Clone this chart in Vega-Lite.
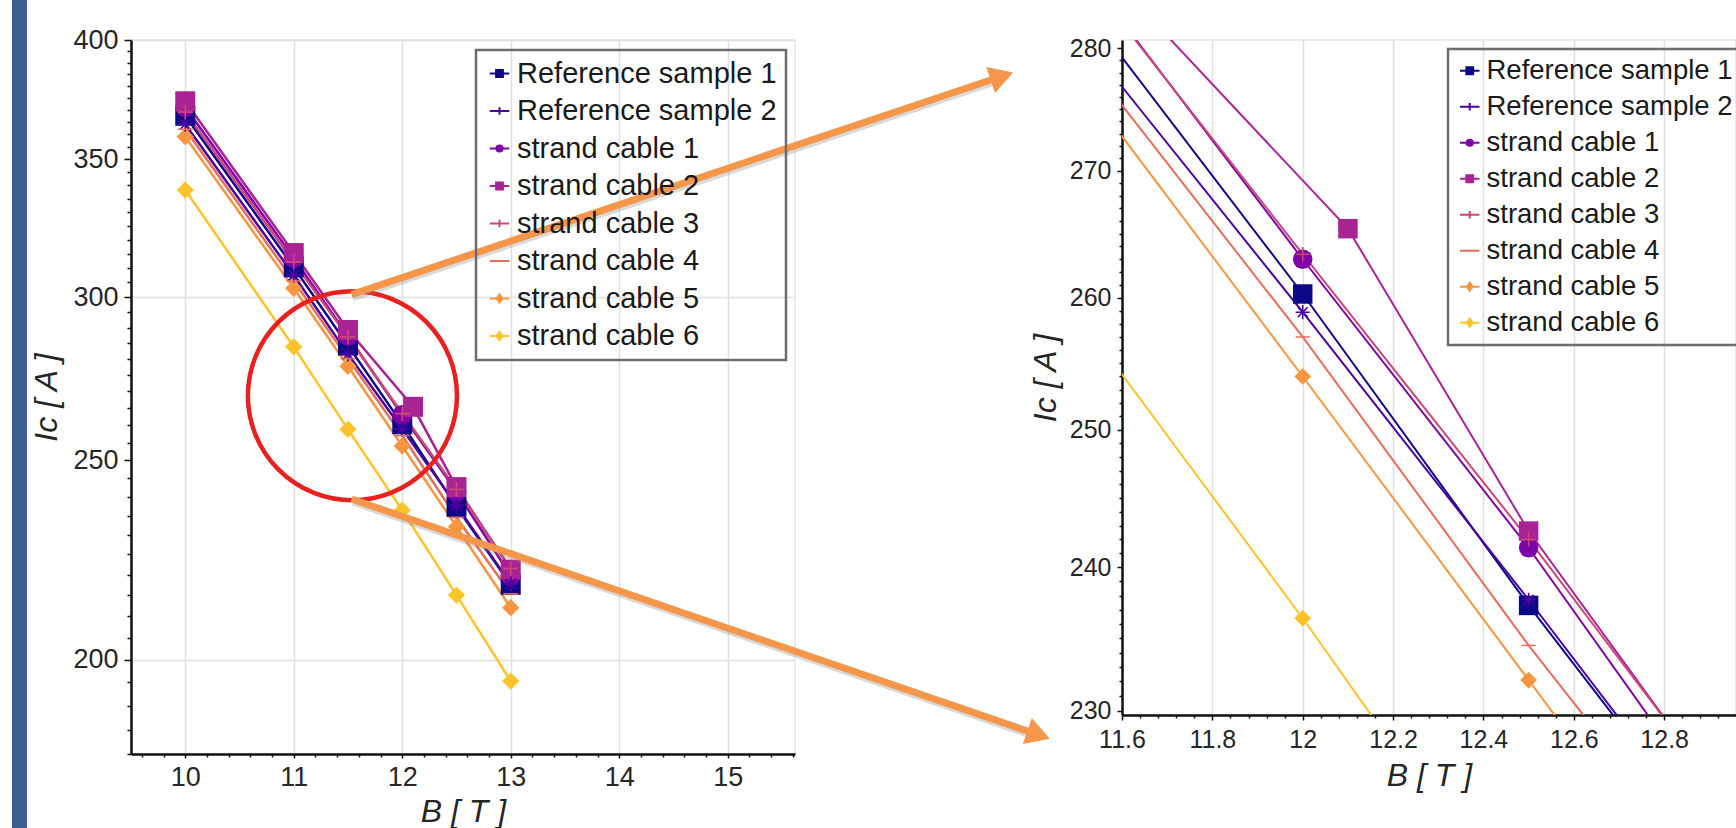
{
  "$schema": "https://vega.github.io/schema/vega-lite/v6.json",
  "background": "white",
  "padding": {"left": 12, "top": 0, "right": 0, "bottom": 0},
  "autosize": {"type": "pad"},
  "columns": 5,
  "spacing": 0,
  "bounds": "flush",
  "align": "each",
  "resolve": {"legend": {"color": "independent"}},
  "datasets": {
    "blank": [{"k": 1}],
    "ic": [
      {"series": "Reference sample 1", "B": 10, "Ic": 367.5},
      {"series": "Reference sample 1", "B": 11, "Ic": 310.2},
      {"series": "Reference sample 1", "B": 11.5, "Ic": 284.2},
      {"series": "Reference sample 1", "B": 12, "Ic": 260.3},
      {"series": "Reference sample 1", "B": 12.5, "Ic": 237.3},
      {"series": "Reference sample 1", "B": 13, "Ic": 217.5},
      {"series": "Reference sample 2", "B": 10, "Ic": 364.0},
      {"series": "Reference sample 2", "B": 11, "Ic": 307.5},
      {"series": "Reference sample 2", "B": 11.5, "Ic": 281.5},
      {"series": "Reference sample 2", "B": 12, "Ic": 258.9},
      {"series": "Reference sample 2", "B": 12.5, "Ic": 237.7},
      {"series": "Reference sample 2", "B": 13, "Ic": 217.7},
      {"series": "strand cable 1", "B": 10, "Ic": 371.0},
      {"series": "strand cable 1", "B": 11, "Ic": 313.5},
      {"series": "strand cable 1", "B": 11.5, "Ic": 287.3},
      {"series": "strand cable 1", "B": 12, "Ic": 263.0},
      {"series": "strand cable 1", "B": 12.5, "Ic": 241.4},
      {"series": "strand cable 1", "B": 13, "Ic": 219.7},
      {"series": "strand cable 2", "B": 10, "Ic": 373.5},
      {"series": "strand cable 2", "B": 11, "Ic": 315.2},
      {"series": "strand cable 2", "B": 11.5, "Ic": 289.2},
      {"series": "strand cable 2", "B": 12.1, "Ic": 265.4},
      {"series": "strand cable 2", "B": 12.5, "Ic": 242.6},
      {"series": "strand cable 2", "B": 13, "Ic": 221.2},
      {"series": "strand cable 3", "B": 10, "Ic": 369.0},
      {"series": "strand cable 3", "B": 11, "Ic": 312.0},
      {"series": "strand cable 3", "B": 11.5, "Ic": 287.0},
      {"series": "strand cable 3", "B": 12, "Ic": 263.4},
      {"series": "strand cable 3", "B": 12.5, "Ic": 242.0},
      {"series": "strand cable 3", "B": 13, "Ic": 221.5},
      {"series": "strand cable 4", "B": 10, "Ic": 362.0},
      {"series": "strand cable 4", "B": 11, "Ic": 305.5},
      {"series": "strand cable 4", "B": 11.5, "Ic": 280.1},
      {"series": "strand cable 4", "B": 12, "Ic": 257.0},
      {"series": "strand cable 4", "B": 12.5, "Ic": 234.5},
      {"series": "strand cable 4", "B": 13, "Ic": 215.3},
      {"series": "strand cable 5", "B": 10, "Ic": 359.0},
      {"series": "strand cable 5", "B": 11, "Ic": 303.0},
      {"series": "strand cable 5", "B": 11.5, "Ic": 277.7},
      {"series": "strand cable 5", "B": 12, "Ic": 254.0},
      {"series": "strand cable 5", "B": 12.5, "Ic": 232.1},
      {"series": "strand cable 5", "B": 13, "Ic": 212.0},
      {"series": "strand cable 6", "B": 10, "Ic": 338.2},
      {"series": "strand cable 6", "B": 11, "Ic": 283.8},
      {"series": "strand cable 6", "B": 11.5, "Ic": 258.8},
      {"series": "strand cable 6", "B": 12, "Ic": 236.4},
      {"series": "strand cable 6", "B": 12.5, "Ic": 215.0},
      {"series": "strand cable 6", "B": 13, "Ic": 195.3}
    ],
    "circle": [{"B": 11.541, "Ic": 268.7}],
    "arrows": [
      {"arrow": "upper", "end": "start", "B": 11.533, "Ic": 300.9},
      {"arrow": "upper", "end": "tip", "B": 17.527, "Ic": 384.1},
      {"arrow": "lower", "end": "start", "B": 11.533, "Ic": 239.4},
      {"arrow": "lower", "end": "tip", "B": 17.865, "Ic": 183.9}
    ]
  },
  "concat": [
    {"width": 15, "height": 40, "data": {"name": "blank"}, "mark": {"type": "point", "opacity": 0}, "view": {"fill": "#3a5f8e", "stroke": null}},
    {"width": 104, "height": 40, "data": {"name": "blank"}, "mark": {"type": "point", "opacity": 0}, "view": {"stroke": null}},
    {"width": 1, "height": 40, "data": {"name": "blank"}, "mark": {"type": "point", "opacity": 0}, "view": {"stroke": null}},
    {"width": 327, "height": 40, "data": {"name": "blank"}, "mark": {"type": "point", "opacity": 0}, "view": {"stroke": null}},
    {"width": 1, "height": 40, "data": {"name": "blank"}, "mark": {"type": "point", "opacity": 0}, "view": {"stroke": null}},
    {"width": 15, "height": 788, "data": {"name": "blank"}, "mark": {"type": "point", "opacity": 0}, "view": {"fill": "#3a5f8e", "stroke": null}},
    {"width": 1, "height": 1, "data": {"name": "blank"}, "mark": {"type": "point", "opacity": 0}, "view": {"stroke": null}},
    {
      "width": 664,
      "height": 714,
      "data": {"name": "ic"},
      "encoding": {
        "x": {
          "field": "B", "type": "quantitative",
          "scale": {"domain": [9.5, 15.62], "nice": false, "zero": false},
          "axis": {
            "values": [9.6, 9.8, 10, 10.2, 10.4, 10.6, 10.8, 11, 11.2, 11.4, 11.6, 11.8, 12, 12.2, 12.4, 12.6, 12.8, 13, 13.2, 13.4, 13.6, 13.8, 14, 14.2, 14.4, 14.6, 14.8, 15, 15.2, 15.4, 15.6],
            "format": "~g",
            "labelExpr": "abs(datum.value - round(datum.value)) < 0.001 ? datum.label : ''",
            "tickSize": {"condition": {"test": "abs(datum.value - round(datum.value)) < 0.001", "value": 4}, "value": 3},
            "grid": true,
            "gridOpacity": {"condition": {"test": "abs(datum.value - round(datum.value)) < 0.001", "value": 1}, "value": 0},
            "title": "B [ T ]",
            "titleFontSize": 32,
            "labelFontSize": 27,
            "labelPadding": 6,
            "titlePadding": 6
          }
        },
        "y": {
          "field": "Ic", "type": "quantitative",
          "scale": {"type": "log", "domain": [180, 400], "nice": false},
          "axis": {
            "values": [180, 185, 190, 195, 200, 205, 210, 215, 220, 225, 230, 235, 240, 245, 250, 255, 260, 265, 270, 275, 280, 285, 290, 295, 300, 305, 310, 315, 320, 325, 330, 335, 340, 345, 350, 355, 360, 365, 370, 375, 380, 385, 390, 395, 400],
            "format": "~g",
            "labelExpr": "datum.value % 50 === 0 ? datum.label : ''",
            "tickSize": {"condition": {"test": "datum.value % 50 === 0", "value": 7}, "value": 4},
            "grid": true,
            "gridOpacity": {"condition": {"test": "datum.value % 100 === 0", "value": 1}, "value": 0},
            "title": "Ic [ A ]",
            "titleFontSize": 32,
            "labelFontSize": 27,
            "labelPadding": 6,
            "titlePadding": 9
          }
        },
        "color": {
          "field": "series", "type": "nominal",
          "scale": {
            "domain": ["Reference sample 1", "Reference sample 2", "strand cable 1", "strand cable 2", "strand cable 3", "strand cable 4", "strand cable 5", "strand cable 6"],
            "range": ["#0d0887", "#4c02a1", "#7e03a8", "#a92395", "#cc4778", "#e66c5c", "#f89540", "#fdc328"]
          },
          "legend": {
            "title": null,
            "orient": "none",
            "legendX": 345,
            "legendY": 10,
            "labelFontSize": 29,
            "symbolType": "M-1,0L1,0M-0.35,-0.35L0.35,-0.35L0.35,0.35L-0.35,0.35Z",
            "symbolSize": 380,
            "symbolStrokeWidth": 2,
            "strokeColor": "#6e6e6e",
            "padding": 9,
            "rowPadding": 7.5,
            "labelOffset": 3,
            "encode": {
              "symbols": {"update": {
                "fill": {"scale": "color", "field": "value"},
                "stroke": {"scale": "color", "field": "value"},
                "shape": {"signal": "datum.value === 'strand cable 1' ? 'M-1,0L1,0M0.32,0A0.32,0.32 0 1,1 -0.32,0A0.32,0.32 0 1,1 0.32,0' : (datum.value === 'strand cable 5' || datum.value === 'strand cable 6') ? 'M-1,0L1,0M0,-0.42L0.3,0L0,0.42L-0.3,0Z' : datum.value === 'strand cable 4' ? 'M-1,0L1,0' : (datum.value === 'Reference sample 2' || datum.value === 'strand cable 3') ? 'M-1,0L1,0M0,-0.38L0,0.38' : 'M-1,0L1,0M-0.35,-0.35L0.35,-0.35L0.35,0.35L-0.35,0.35Z'"}
              }},
              "legend": {"update": {"strokeWidth": {"value": 2.5}}}
            }
          }
        }
      },
      "layer": [
        {"mark": {"type": "line", "strokeWidth": 2.5}},
        {
          "transform": [{"filter": "indexof(['Reference sample 1','strand cable 1','strand cable 2'], datum.series) >= 0"}],
          "mark": {"type": "point", "filled": true, "opacity": 1, "size": 400},
          "encoding": {"shape": {"field": "series", "type": "nominal", "legend": null,
            "scale": {"domain": ["Reference sample 1", "Reference sample 2", "strand cable 1", "strand cable 2", "strand cable 3", "strand cable 4", "strand cable 5", "strand cable 6"],
              "range": ["square", "M-1,0L1,0M0,-1L0,1M-0.7,-0.7L0.7,0.7M-0.7,0.7L0.7,-0.7", "circle", "square", "M-1,0L1,0M0,-1L0,1", "M-1,0L1,0", "diamond", "diamond"]}}}
        },
        {
          "transform": [{"filter": "indexof(['strand cable 5','strand cable 6'], datum.series) >= 0"}],
          "mark": {"type": "point", "filled": true, "opacity": 1, "size": 300},
          "encoding": {"shape": {"field": "series", "type": "nominal", "legend": null,
            "scale": {"domain": ["Reference sample 1", "Reference sample 2", "strand cable 1", "strand cable 2", "strand cable 3", "strand cable 4", "strand cable 5", "strand cable 6"],
              "range": ["square", "M-1,0L1,0M0,-1L0,1M-0.7,-0.7L0.7,0.7M-0.7,0.7L0.7,-0.7", "circle", "square", "M-1,0L1,0M0,-1L0,1", "M-1,0L1,0", "diamond", "diamond"]}}}
        },
        {
          "transform": [{"filter": "indexof(['Reference sample 2','strand cable 3','strand cable 4'], datum.series) >= 0"}],
          "mark": {"type": "point", "filled": false, "opacity": 1, "size": 220, "strokeWidth": 1.6},
          "encoding": {"shape": {"field": "series", "type": "nominal", "legend": null,
            "scale": {"domain": ["Reference sample 1", "Reference sample 2", "strand cable 1", "strand cable 2", "strand cable 3", "strand cable 4", "strand cable 5", "strand cable 6"],
              "range": ["square", "M-1,0L1,0M0,-1L0,1M-0.7,-0.7L0.7,0.7M-0.7,0.7L0.7,-0.7", "circle", "square", "M-1,0L1,0M0,-1L0,1", "M-1,0L1,0", "diamond", "diamond"]}}}
        },
        {
          "data": {"name": "circle"},
          "mark": {"type": "point", "shape": "circle", "filled": false, "opacity": 1, "size": 43700, "strokeWidth": 4.5},
          "encoding": {"color": {"value": "#e8201f"}}
        },
        {
          "data": {"name": "arrows"},
          "mark": {"type": "line", "strokeWidth": 7, "strokeCap": "butt", "yOffset": 3, "xOffset": 1, "opacity": 0.3},
          "encoding": {"color": {"value": "#808080"}, "detail": {"field": "arrow", "type": "nominal"}}
        },
        {
          "data": {"name": "arrows"},
          "mark": {"type": "line", "strokeWidth": 7, "strokeCap": "butt"},
          "encoding": {"color": {"value": "#f5964a"}, "detail": {"field": "arrow", "type": "nominal"}}
        },
        {
          "data": {"name": "arrows"},
          "transform": [{"filter": "datum.end === 'tip' && datum.arrow === 'upper'"}],
          "mark": {"type": "point", "shape": "triangle-right", "filled": true, "opacity": 1, "size": 750, "angle": -18.6},
          "encoding": {"color": {"value": "#f5964a"}}
        },
        {
          "data": {"name": "arrows"},
          "transform": [{"filter": "datum.end === 'tip' && datum.arrow === 'lower'"}],
          "mark": {"type": "point", "shape": "triangle-right", "filled": true, "opacity": 1, "size": 750, "angle": 19},
          "encoding": {"color": {"value": "#f5964a"}}
        }
      ]
    },
    {"width": 1, "height": 1, "data": {"name": "blank"}, "mark": {"type": "point", "opacity": 0}, "view": {"stroke": null}},
    {
      "width": 614,
      "height": 675,
      "data": {"name": "ic"},
      "encoding": {
        "x": {
          "field": "B", "type": "quantitative",
          "scale": {"domain": [11.6, 12.959], "nice": false, "zero": false},
          "axis": {
            "values": [11.6, 11.64, 11.68, 11.72, 11.76, 11.8, 11.84, 11.88, 11.92, 11.96, 12, 12.04, 12.08, 12.12, 12.16, 12.2, 12.24, 12.28, 12.32, 12.36, 12.4, 12.44, 12.48, 12.52, 12.56, 12.6, 12.64, 12.68, 12.72, 12.76, 12.8, 12.84, 12.88, 12.92],
            "format": "~g",
            "labelExpr": "abs(datum.value * 5 - round(datum.value * 5)) < 0.001 ? datum.label : ''",
            "tickSize": {"condition": {"test": "abs(datum.value * 5 - round(datum.value * 5)) < 0.001", "value": 5}, "value": 3},
            "grid": true,
            "gridOpacity": {"condition": {"test": "abs(datum.value * 5 - round(datum.value * 5)) < 0.001", "value": 1}, "value": 0},
            "title": "B [ T ]",
            "titleFontSize": 32,
            "labelFontSize": 25,
            "labelPadding": 7,
            "titlePadding": 8
          }
        },
        "y": {
          "field": "Ic", "type": "quantitative",
          "scale": {"type": "log", "domain": [229.7, 280.7], "nice": false},
          "axis": {
            "values": [230, 231, 232, 233, 234, 235, 236, 237, 238, 239, 240, 241, 242, 243, 244, 245, 246, 247, 248, 249, 250, 251, 252, 253, 254, 255, 256, 257, 258, 259, 260, 261, 262, 263, 264, 265, 266, 267, 268, 269, 270, 271, 272, 273, 274, 275, 276, 277, 278, 279, 280],
            "format": "~g",
            "labelExpr": "datum.value % 10 === 0 ? datum.label : ''",
            "tickSize": {"condition": {"test": "datum.value % 10 === 0", "value": 5}, "value": 3},
            "grid": false,
            "title": "Ic [ A ]",
            "titleFontSize": 32,
            "labelFontSize": 25,
            "labelPadding": 6,
            "titlePadding": 7
          }
        },
        "color": {
          "field": "series", "type": "nominal",
          "scale": {
            "domain": ["Reference sample 1", "Reference sample 2", "strand cable 1", "strand cable 2", "strand cable 3", "strand cable 4", "strand cable 5", "strand cable 6"],
            "range": ["#0d0887", "#4c02a1", "#7e03a8", "#a92395", "#cc4778", "#e66c5c", "#f89540", "#fdc328"]
          },
          "legend": {
            "title": null,
            "orient": "none",
            "legendX": 326,
            "legendY": 9,
            "labelFontSize": 27.5,
            "symbolType": "M-1,0L1,0M-0.35,-0.35L0.35,-0.35L0.35,0.35L-0.35,0.35Z",
            "symbolSize": 380,
            "symbolStrokeWidth": 2,
            "strokeColor": "#6e6e6e",
            "padding": 8,
            "rowPadding": 7,
            "labelOffset": 3,
            "encode": {
              "symbols": {"update": {
                "fill": {"scale": "color", "field": "value"},
                "stroke": {"scale": "color", "field": "value"},
                "shape": {"signal": "datum.value === 'strand cable 1' ? 'M-1,0L1,0M0.32,0A0.32,0.32 0 1,1 -0.32,0A0.32,0.32 0 1,1 0.32,0' : (datum.value === 'strand cable 5' || datum.value === 'strand cable 6') ? 'M-1,0L1,0M0,-0.42L0.3,0L0,0.42L-0.3,0Z' : datum.value === 'strand cable 4' ? 'M-1,0L1,0' : (datum.value === 'Reference sample 2' || datum.value === 'strand cable 3') ? 'M-1,0L1,0M0,-0.38L0,0.38' : 'M-1,0L1,0M-0.35,-0.35L0.35,-0.35L0.35,0.35L-0.35,0.35Z'"}
              }},
              "legend": {"update": {"strokeWidth": {"value": 2.5}}}
            }
          }
        }
      },
      "layer": [
        {"mark": {"type": "line", "strokeWidth": 2, "clip": true}},
        {
          "transform": [{"filter": "indexof(['Reference sample 1','strand cable 1','strand cable 2'], datum.series) >= 0"}],
          "mark": {"type": "point", "filled": true, "opacity": 1, "size": 380, "clip": true},
          "encoding": {"shape": {"field": "series", "type": "nominal", "legend": null,
            "scale": {"domain": ["Reference sample 1", "Reference sample 2", "strand cable 1", "strand cable 2", "strand cable 3", "strand cable 4", "strand cable 5", "strand cable 6"],
              "range": ["square", "M-1,0L1,0M0,-1L0,1M-0.7,-0.7L0.7,0.7M-0.7,0.7L0.7,-0.7", "circle", "square", "M-1,0L1,0M0,-1L0,1", "M-1,0L1,0", "diamond", "diamond"]}}}
        },
        {
          "transform": [{"filter": "indexof(['strand cable 5','strand cable 6'], datum.series) >= 0"}],
          "mark": {"type": "point", "filled": true, "opacity": 1, "size": 280, "clip": true},
          "encoding": {"shape": {"field": "series", "type": "nominal", "legend": null,
            "scale": {"domain": ["Reference sample 1", "Reference sample 2", "strand cable 1", "strand cable 2", "strand cable 3", "strand cable 4", "strand cable 5", "strand cable 6"],
              "range": ["square", "M-1,0L1,0M0,-1L0,1M-0.7,-0.7L0.7,0.7M-0.7,0.7L0.7,-0.7", "circle", "square", "M-1,0L1,0M0,-1L0,1", "M-1,0L1,0", "diamond", "diamond"]}}}
        },
        {
          "transform": [{"filter": "indexof(['Reference sample 2','strand cable 3','strand cable 4'], datum.series) >= 0"}],
          "mark": {"type": "point", "filled": false, "opacity": 1, "size": 200, "strokeWidth": 1.5, "clip": true},
          "encoding": {"shape": {"field": "series", "type": "nominal", "legend": null,
            "scale": {"domain": ["Reference sample 1", "Reference sample 2", "strand cable 1", "strand cable 2", "strand cable 3", "strand cable 4", "strand cable 5", "strand cable 6"],
              "range": ["square", "M-1,0L1,0M0,-1L0,1M-0.7,-0.7L0.7,0.7M-0.7,0.7L0.7,-0.7", "circle", "square", "M-1,0L1,0M0,-1L0,1", "M-1,0L1,0", "diamond", "diamond"]}}}
        }
      ]
    }
  ],
  "config": {
    "font": "Liberation Sans",
    "view": {"stroke": "#e6e6e6", "strokeWidth": 1.5},
    "axis": {
      "domainColor": "#111111",
      "domainWidth": 2.5,
      "tickColor": "#111111",
      "tickWidth": 1.5,
      "labelColor": "#262626",
      "titleColor": "#262626",
      "gridColor": "#e0e0e0",
      "gridWidth": 1.5,
      "labelFlush": false,
      "labelOverlap": false,
      "titleFontWeight": "normal",
      "titleFontStyle": "italic",
      "labelFont": "Liberation Sans",
      "titleFont": "Liberation Sans"
    },
    "legend": {"labelFont": "Liberation Sans", "labelColor": "#1a1a1a", "labelLimit": 0}
  }
}
